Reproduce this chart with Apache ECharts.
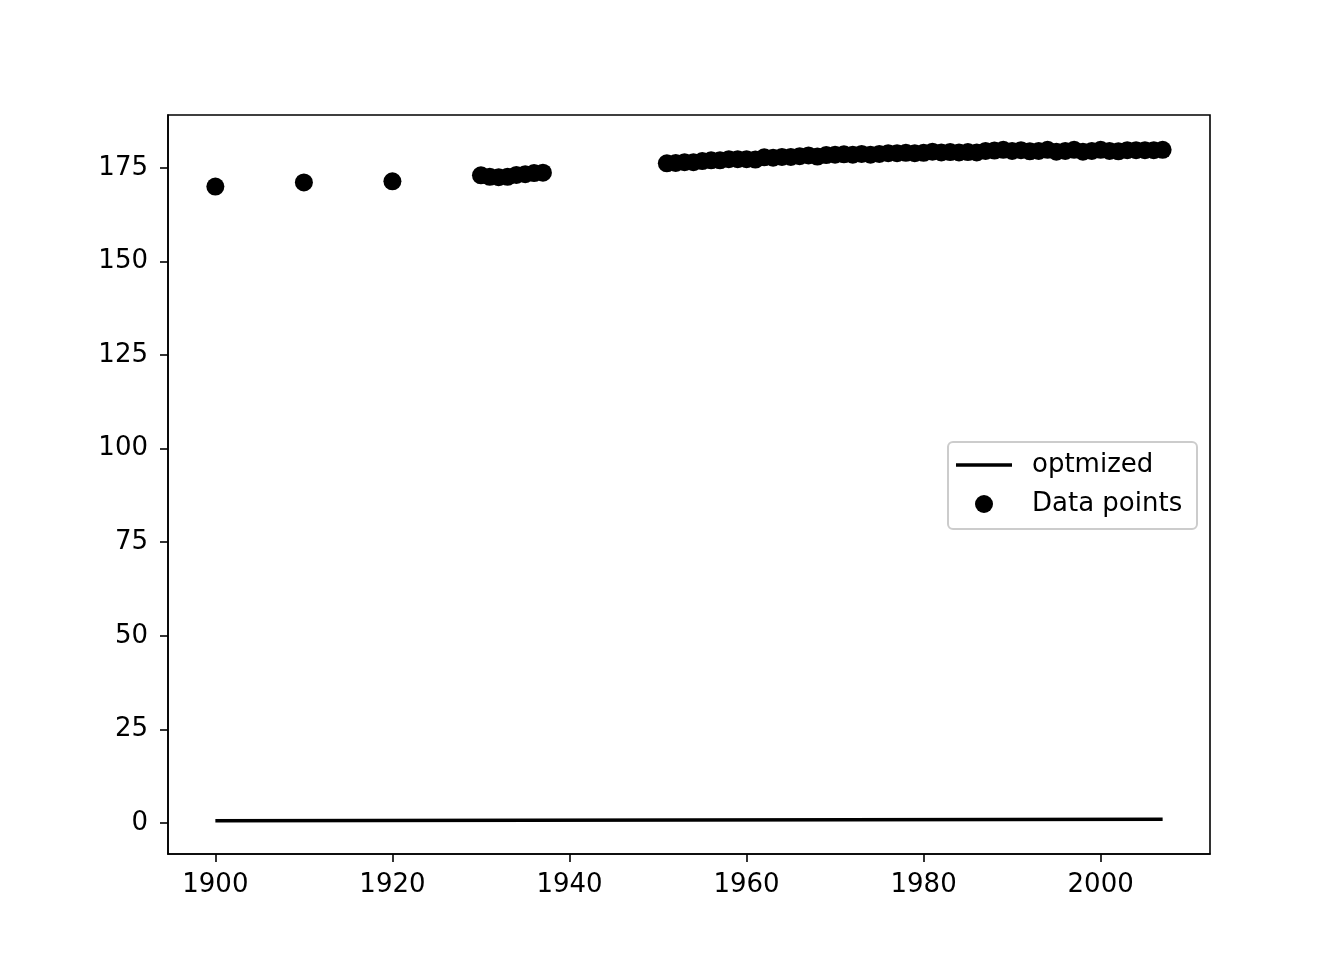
<!DOCTYPE html>
<html>
<head>
<meta charset="utf-8">
<script src="https://cdn.jsdelivr.net/npm/echarts@6/dist/echarts.min.js"></script>
<style>
html,body{margin:0;padding:0;background:#fff;}
#chart{width:1344px;height:960px;}
</style>
</head>
<body>
<div id="chart"></div>
<script>
// Data
const years = [1900,1910,1920,1930,1931,1932,1933,1934,1935,1936,1937,
  1951,1952,1953,1954,1955,1956,1957,1958,1959,1960,1961,1962,1963,1964,1965,1966,1967,1968,1969,
  1970,1971,1972,1973,1974,1975,1976,1977,1978,1979,1980,1981,1982,1983,1984,1985,1986,1987,1988,1989,
  1990,1991,1992,1993,1994,1995,1996,1997,1998,1999,2000,2001,2002,2003,2004,2005,2006,2007];
const heights = [170.0,171.1,171.4,173.0,172.6,172.5,172.6,173.1,173.3,173.6,173.7,
  176.2,176.3,176.5,176.5,176.8,177.0,177.0,177.3,177.3,177.3,177.2,177.8,177.7,177.9,177.9,178.1,178.3,178.0,178.4,
  178.5,178.6,178.5,178.7,178.5,178.7,178.9,178.9,179.0,178.9,179.0,179.3,179.1,179.2,179.1,179.2,179.1,179.5,179.6,179.8,
  179.5,179.7,179.4,179.5,179.8,179.3,179.5,179.8,179.3,179.5,179.8,179.5,179.4,179.7,179.7,179.7,179.7,179.8];
const fitYears = [1900, 2007];
const fitValues = [0.6, 1.0];
const xTicks = [1900,1920,1940,1960,1980,2000];
const yTicks = [0,25,50,75,100,125,150,175];
const lineName = 'optmized';
const pointsName = 'Data points';

const scatterData = years.map((y,i)=>[y, heights[i]]);
const lineData = fitYears.map((y,i)=>[y, fitValues[i]]);

const FONT = 'DejaVu Sans';
const FS = 26;
const chart = echarts.init(document.getElementById('chart'), null, {renderer:'canvas'});
chart.setOption({
  backgroundColor:'#ffffff',
  animation:false,
  grid:{left:168, right:134, top:115, bottom:106, show:true, borderColor:'#000', borderWidth:1.6, backgroundColor:'transparent'},
  xAxis:{
    type:'value', min:1894.65, max:2012.35,
    splitLine:{show:false},
    axisLine:{show:true, onZero:false, lineStyle:{color:'#000', width:1.6}},
    axisTick:{show:true, inside:false, length:8, lineStyle:{color:'#000', width:1.6}, customValues:xTicks},
    axisLabel:{show:true, margin:18, color:'#000', fontFamily:FONT, fontSize:FS, customValues:xTicks, formatter:v=>String(v)}
  },
  yAxis:{
    type:'value', min:-8.27, max:189.1,
    splitLine:{show:false},
    axisLine:{show:true, onZero:false, lineStyle:{color:'#000', width:1.6}},
    axisTick:{show:true, inside:false, length:8, lineStyle:{color:'#000', width:1.6}, customValues:yTicks},
    axisLabel:{show:true, margin:20, color:'#000', fontFamily:FONT, fontSize:FS, customValues:yTicks, formatter:v=>String(v)}
  },
  legend:[
    {data:[{name:lineName, icon:'rect'}], left:956, top:452, padding:0, itemWidth:56, itemHeight:3.5,
     textStyle:{color:'#000', fontFamily:FONT, fontSize:FS, padding:[0,0,0,15]}},
    {data:[{name:pointsName, icon:'circle'}], left:975, top:491, padding:0, itemWidth:18, itemHeight:18,
     textStyle:{color:'#000', fontFamily:FONT, fontSize:FS, padding:[0,0,0,34]}}
  ],
  graphic:[
    {type:'rect', left:947, top:441, z:-1, shape:{width:249, height:87, r:5},
     style:{fill:'rgba(255,255,255,0.8)', stroke:'#cccccc', lineWidth:2}}
  ],
  series:[
    {name:lineName, type:'line', data:lineData, showSymbol:false, symbol:'none',
     lineStyle:{color:'#000', width:3.5}, itemStyle:{color:'#000'}, z:3},
    {name:pointsName, type:'scatter', data:scatterData, symbolSize:18,
     itemStyle:{color:'#000', opacity:1}, z:4}
  ]
});
</script>
</body>
</html>
